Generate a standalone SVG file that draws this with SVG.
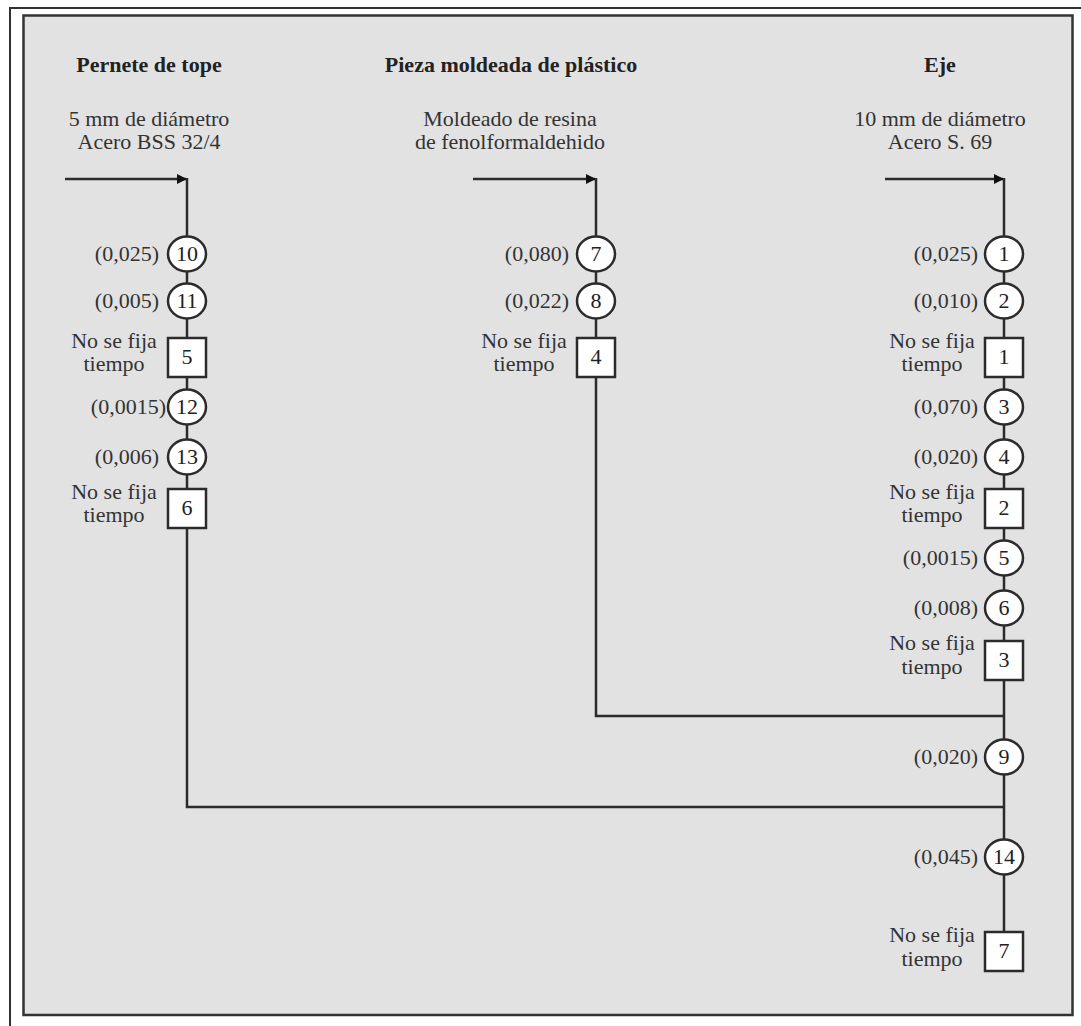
<svg xmlns="http://www.w3.org/2000/svg" width="1081" height="1026" viewBox="0 0 1081 1026" font-family="'Liberation Serif', 'DejaVu Serif', serif">
  <style>
    text { font-family: "Liberation Serif", "DejaVu Serif", serif; fill: #222; }
    .title { font-size: 22px; font-weight: bold; text-anchor: middle; }
    .sub { font-size: 22px; text-anchor: middle; fill: #333; }
    .time { font-size: 22px; text-anchor: end; fill: #333; }
    .note { font-size: 22px; text-anchor: middle; fill: #333; }
    .num { font-size: 22px; text-anchor: middle; }
    .op { fill: #fff; stroke: #2b2b2b; stroke-width: 2.5; }
    .wire { fill: none; stroke: #2b2b2b; stroke-width: 2.5; }
    .frame { fill: none; stroke: #333; stroke-width: 2; }
  </style>
  <defs>
    <marker id="head" viewBox="0 0 10 10" refX="9" refY="5" markerWidth="4" markerHeight="4" orient="auto" markerUnits="strokeWidth">
      <path d="M0,0 L10,5 L0,10 Z" fill="#111"/>
    </marker>
  </defs>

  <!-- page and frame -->
  <rect x="0" y="0" width="1081" height="1026" fill="#fff"/>
  <path class="frame" d="M10,1026 V8 H1081"/>
  <rect x="23.5" y="15.5" width="1049" height="999.5" fill="#e2e2e2" stroke="#333" stroke-width="2.5"/>

  <!-- column headings -->
  <g id="headings">
    <text class="title" x="149" y="72">Pernete de tope</text>
    <text class="sub" x="149" y="126">5 mm de diámetro</text>
    <text class="sub" x="149" y="149">Acero BSS 32/4</text>
    <text class="title" x="511" y="72">Pieza moldeada de plástico</text>
    <text class="sub" x="510" y="126">Moldeado de resina</text>
    <text class="sub" x="510" y="149">de fenolformaldehido</text>
    <text class="title" x="940" y="72">Eje</text>
    <text class="sub" x="940" y="126">10 mm de diámetro</text>
    <text class="sub" x="940" y="149">Acero S. 69</text>
  </g>

  <!-- flow lines -->
  <g id="connectors">
    <line class="wire" x1="65" y1="179" x2="186" y2="179" marker-end="url(#head)"/>
    <line class="wire" x1="473" y1="179" x2="595" y2="179" marker-end="url(#head)"/>
    <line class="wire" x1="885" y1="179" x2="1003" y2="179" marker-end="url(#head)"/>
    <path class="wire" d="M187,178 V807 H1004"/>
    <path class="wire" d="M596,178 V716 H1004"/>
    <path class="wire" d="M1004,178 V932"/>
  </g>

  <!-- Pernete de tope -->
  <g id="op-10"><ellipse class="op" cx="187" cy="254" rx="19" ry="17.5"/><text class="num" x="187" y="261">10</text><text class="time" x="159" y="261">(0,025)</text></g>
  <g id="op-11"><ellipse class="op" cx="187" cy="301" rx="19" ry="17.5"/><text class="num" x="187" y="308">11</text><text class="time" x="159" y="308">(0,005)</text></g>
  <g id="insp-5"><rect class="op" x="168" y="338" width="38" height="39"/><text class="num" x="187" y="364">5</text><text class="note" x="114" y="348">No se fija</text><text class="note" x="114" y="371">tiempo</text></g>
  <g id="op-12"><ellipse class="op" cx="187" cy="407" rx="19" ry="17.5"/><text class="num" x="187" y="414">12</text><text class="time" x="166" y="414">(0,0015)</text></g>
  <g id="op-13"><ellipse class="op" cx="187" cy="457" rx="19" ry="17.5"/><text class="num" x="187" y="464">13</text><text class="time" x="159" y="464">(0,006)</text></g>
  <g id="insp-6"><rect class="op" x="168" y="489" width="38" height="39"/><text class="num" x="187" y="515">6</text><text class="note" x="114" y="499">No se fija</text><text class="note" x="114" y="522">tiempo</text></g>

  <!-- Pieza moldeada de plástico -->
  <g id="op-7"><ellipse class="op" cx="596" cy="254" rx="19" ry="17.5"/><text class="num" x="596" y="261">7</text><text class="time" x="569" y="261">(0,080)</text></g>
  <g id="op-8"><ellipse class="op" cx="596" cy="301" rx="19" ry="17.5"/><text class="num" x="596" y="308">8</text><text class="time" x="569" y="308">(0,022)</text></g>
  <g id="insp-4"><rect class="op" x="577" y="338" width="38" height="39"/><text class="num" x="596" y="364">4</text><text class="note" x="524" y="348">No se fija</text><text class="note" x="524" y="371">tiempo</text></g>

  <!-- Eje -->
  <g id="op-1"><ellipse class="op" cx="1004" cy="254" rx="19" ry="17.5"/><text class="num" x="1004" y="261">1</text><text class="time" x="978" y="261">(0,025)</text></g>
  <g id="op-2"><ellipse class="op" cx="1004" cy="301" rx="19" ry="17.5"/><text class="num" x="1004" y="308">2</text><text class="time" x="978" y="308">(0,010)</text></g>
  <g id="insp-1"><rect class="op" x="985" y="338" width="38" height="39"/><text class="num" x="1004" y="364">1</text><text class="note" x="932" y="348">No se fija</text><text class="note" x="932" y="371">tiempo</text></g>
  <g id="op-3"><ellipse class="op" cx="1004" cy="407" rx="19" ry="17.5"/><text class="num" x="1004" y="414">3</text><text class="time" x="978" y="414">(0,070)</text></g>
  <g id="op-4"><ellipse class="op" cx="1004" cy="457" rx="19" ry="17.5"/><text class="num" x="1004" y="464">4</text><text class="time" x="978" y="464">(0,020)</text></g>
  <g id="insp-2"><rect class="op" x="985" y="489" width="38" height="39"/><text class="num" x="1004" y="515">2</text><text class="note" x="932" y="499">No se fija</text><text class="note" x="932" y="522">tiempo</text></g>
  <g id="op-5"><ellipse class="op" cx="1004" cy="558" rx="19" ry="17.5"/><text class="num" x="1004" y="565">5</text><text class="time" x="978" y="565">(0,0015)</text></g>
  <g id="op-6"><ellipse class="op" cx="1004" cy="608" rx="19" ry="17.5"/><text class="num" x="1004" y="615">6</text><text class="time" x="978" y="615">(0,008)</text></g>
  <g id="insp-3"><rect class="op" x="985" y="641" width="38" height="39"/><text class="num" x="1004" y="667">3</text><text class="note" x="932" y="650">No se fija</text><text class="note" x="932" y="674">tiempo</text></g>
  <g id="op-9"><ellipse class="op" cx="1004" cy="757" rx="19" ry="17.5"/><text class="num" x="1004" y="764">9</text><text class="time" x="978" y="764">(0,020)</text></g>
  <g id="op-14"><ellipse class="op" cx="1004" cy="857" rx="19" ry="17.5"/><text class="num" x="1004" y="864">14</text><text class="time" x="978" y="864">(0,045)</text></g>
  <g id="insp-7"><rect class="op" x="985" y="932" width="38" height="39"/><text class="num" x="1004" y="958">7</text><text class="note" x="932" y="942">No se fija</text><text class="note" x="932" y="966">tiempo</text></g>
</svg>
